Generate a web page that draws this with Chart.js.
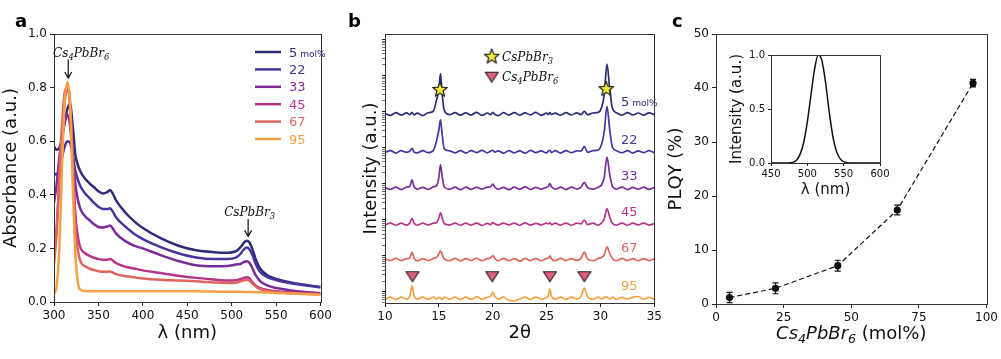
<!DOCTYPE html>
<html>
<head>
<meta charset="utf-8">
<script src="https://cdn.jsdelivr.net/npm/chart.js@4.4.1/dist/chart.umd.min.js"></script>
<style>
  body { margin: 0; background: #fff; width: 1001px; height: 359px; overflow: hidden; position: relative; }
  canvas { position: absolute; top: 0; }
</style>
</head>
<body>
<canvas id="absChart" width="335" height="359" style="left:0px"></canvas>
<canvas id="xrdChart" width="335" height="359" style="left:330px"></canvas>
<canvas id="plqyChart" width="336" height="359" style="left:665px"></canvas>
<canvas id="plChart" width="170" height="160" style="left:722px;top:45px"></canvas>
<script>
// ---- panel a: absorbance ----
const wavelength = [300, 303, 306, 309, 312, 315, 318, 321, 324, 327,
  330, 335, 340, 345, 350, 355, 360, 363, 366, 370,
  380, 390, 400, 420, 440, 460, 480, 495, 505, 510,
  514, 517, 520, 523, 527, 532, 540, 550, 565, 580, 600];
const absLabels = ['5', '22', '33', '45', '67', '95'];
const abs5 = [.58, .568, .575, .61, .67, .72, .74, .66, .55, .51,
  .485, .46, .443, .428, .413, .405, .41, .418, .405, .378,
  .335, .302, .276, .238, .21, .193, .186, .184, .19, .205,
  .222, .229, .222, .2, .16, .125, .1, .086, .074, .065, .056];
const abs22 = [.48, .475, .50, .54, .58, .60, .595, .55, .49, .455,
  .43, .405, .388, .37, .355, .347, .347, .35, .338, .315,
  .282, .255, .235, .205, .182, .166, .16, .16, .166, .18,
  .197, .203, .196, .178, .142, .112, .093, .082, .071, .063, .055];
const abs33 = [.37, .44, .54, .62, .67, .70, .66, .55, .44, .38,
  .345, .32, .305, .29, .28, .278, .282, .285, .275, .255,
  .228, .21, .2, .175, .153, .137, .133, .134, .14, .142,
  .15, .152, .146, .128, .1, .078, .062, .052, .044, .038, .033];
const abs45 = [.17, .28, .45, .62, .75, .80, .74, .55, .33, .24,
  .2, .182, .172, .165, .16, .158, .158, .16, .155, .145,
  .132, .125, .118, .108, .098, .09, .084, .08, .081, .086,
  .09, .092, .088, .075, .062, .052, .045, .04, .036, .033, .03];
const abs67 = [.14, .26, .47, .66, .78, .80, .75, .52, .28, .19,
  .15, .133, .125, .119, .115, .113, .113, .114, .11, .104,
  .097, .092, .088, .083, .08, .077, .073, .071, .072, .077,
  .081, .083, .079, .07, .058, .048, .041, .036, .033, .031, .029];
const abs95 = [.03, .06, .2, .5, .74, .82, .74, .45, .18, .07,
  .045, .041, .04, .04, .04, .04, .04, .04, .04, .04,
  .04, .04, .04, .04, .04, .04, .039, .038, .038, .038,
  .037, .037, .037, .037, .036, .036, .035, .034, .032, .03, .027];
const absSeries = [abs5, abs22, abs33, abs45, abs67, abs95];
const seriesColors = ['#2f2c78', '#4a32a0', '#7a2d96', '#b4358a', '#e0655f', '#f6a044'];

// ---- panel b: XRD (relative to baseline, stacked by decade) ----
const twoTheta = [10, 10.5, 11, 11.5, 12, 12.3, 12.5, 12.7, 13, 13.5,
  14, 14.5, 14.8, 15, 15.15, 15.3, 15.5, 16, 16.5, 17,
  17.5, 18, 18.5, 19, 19.5, 19.8, 20, 20.2, 20.5, 21,
  21.5, 22, 22.5, 23, 23.5, 24, 24.5, 25, 25.15, 25.3,
  25.45, 25.8, 26.3, 26.8, 27.3, 27.8, 28.2, 28.5, 28.8, 29.3,
  29.8, 30.1, 30.35, 30.6, 30.85, 31.1, 31.5, 32, 32.5, 33,
  33.5, 34, 34.5, 35];
const xrd5 = [1.04, 0.91, 1.09, 0.93, 1.07, 0.95, 1.1, 0.94, 1.05, 0.9,
  1.08, 1.2, 2.6, 4.6, 13, 3.8, 1.25, 0.95, 1.08, 0.92,
  1.07, 0.93, 1.1, 0.91, 1.06, 0.95, 1.11, 0.96, 0.9, 1.08,
  0.93, 1.09, 0.92, 1.07, 0.94, 1.1, 0.91, 1.06, 0.95, 1.08,
  0.96, 1.05, 0.92, 1.09, 0.94, 1.07, 0.96, 1.18, 0.95, 1.06,
  1.1, 1.5, 3.4, 24, 5.2, 1.45, 1.07, 0.93, 1.08, 0.94,
  1.06, 0.92, 1.07, 0.95];
const xrd22 = [0.94, 1.08, 0.92, 1.07, 0.96, 1.04, 1.25, 0.98, 0.93, 1.08,
  0.94, 1.1, 2.1, 4.0, 7.6, 3.1, 1.2, 1.06, 0.93, 1.08,
  0.92, 1.07, 0.95, 1.09, 0.93, 1.04, 1.1, 0.97, 1.06, 0.91,
  1.08, 0.93, 1.06, 0.91, 1.09, 0.94, 1.05, 0.93, 1.04, 1.1,
  0.95, 1.07, 0.92, 1.08, 0.94, 1.06, 1.04, 1.4, 0.96, 1.07,
  1.12, 1.6, 3.6, 18, 4.3, 1.35, 1.06, 0.94, 1.07, 0.92,
  1.05, 0.94, 1.08, 0.93];
const xrd33 = [1.05, 0.93, 1.08, 0.92, 1.07, 1.12, 1.7, 1.1, 0.94, 1.06,
  0.93, 1.09, 1.2, 2.0, 4.5, 2.2, 1.08, 0.94, 1.07, 0.91,
  1.08, 0.93, 1.06, 0.95, 1.07, 1.1, 1.3, 1.07, 0.93, 1.06,
  0.91, 1.07, 0.94, 1.09, 0.93, 1.05, 0.95, 1.07, 1.12, 1.35,
  1.1, 0.94, 1.07, 0.92, 1.08, 0.95, 1.07, 1.45, 1.04, 0.94,
  1.07, 1.25, 2.0, 7.3, 2.5, 1.15, 0.95, 1.07, 0.92, 1.06,
  0.94, 1.07, 0.93, 1.05];
const xrd45 = [0.95, 1.07, 0.93, 1.06, 0.94, 1.08, 1.45, 1.06, 0.93, 1.07,
  0.95, 1.06, 1.1, 1.5, 2.1, 1.5, 1.04, 0.94, 1.07, 0.93,
  1.06, 0.94, 1.07, 0.92, 1.05, 0.96, 1.1, 1.02, 0.94, 1.07,
  0.95, 1.06, 0.93, 1.08, 0.94, 1.05, 0.95, 1.06, 1.02, 1.1,
  0.96, 1.06, 0.94, 1.07, 0.93, 1.06, 1.02, 1.3, 0.97, 1.06,
  0.94, 1.08, 1.4, 2.7, 1.6, 1.06, 0.94, 1.07, 0.93, 1.06,
  0.95, 1.07, 0.94, 1.04];
const xrd67 = [1.06, 0.93, 1.09, 0.94, 1.06, 1.12, 1.6, 1.08, 0.92, 1.07,
  0.94, 1.08, 1.15, 1.45, 1.75, 1.4, 1.05, 0.93, 1.08, 0.92,
  1.07, 0.94, 1.09, 0.93, 1.06, 1.1, 1.3, 1.07, 0.92, 1.08,
  0.93, 1.07, 0.91, 1.08, 0.94, 1.06, 0.93, 1.07, 1.08, 1.27,
  1.05, 0.93, 1.08, 0.94, 1.06, 0.95, 1.1, 1.6, 1.04, 0.93,
  1.08, 1.15, 1.35, 2.25, 1.5, 1.07, 0.93, 1.08, 0.94, 1.06,
  0.93, 1.07, 0.94, 1.05];
const xrd95 = [0.94, 1.07, 0.92, 1.08, 0.95, 1.14, 2.25, 1.18, 0.95, 1.07,
  0.93, 1.08, 0.95, 1.06, 1.02, 0.93, 1.08, 0.94, 1.07, 0.92,
  1.08, 0.93, 1.09, 0.94, 1.07, 1.14, 1.45, 1.12, 0.95, 1.07,
  0.88, 0.84, 0.95, 1.07, 0.93, 1.08, 0.94, 1.06, 1.18, 1.8,
  1.12, 0.95, 1.07, 0.93, 1.08, 0.95, 1.12, 1.9, 1.1, 0.94,
  1.07, 0.95, 1.06, 1.08, 0.96, 1.07, 0.94, 1.06, 0.95, 1.07,
  1.12, 0.94, 1.06, 0.95];
const xrdSeries = [xrd5, xrd22, xrd33, xrd45, xrd67, xrd95];
const xrdOffset = [86000, 7700, 750, 76, 7.9, 0.67];
const starX = [15.1, 30.53];
const starY = [4.0e5, 4.2e5];
const triX = [12.55, 19.95, 25.3, 28.5];
const triY = [2.73, 2.73, 2.73, 2.73];

// ---- panel c: PLQY + inset PL ----
const composition = [5, 22, 45, 67, 95];
const plqy = [1.2, 2.9, 7.1, 17.4, 40.9];
const plqyErr = [0.95, 1.0, 1.0, 0.9, 0.7];
const plWl = [450, 455, 460, 465, 470, 475, 480, 485, 490, 495, 500, 505, 510, 515, 520,
  525, 530, 535, 540, 545, 550, 555, 560, 565, 570, 575, 580, 585, 590, 595, 600];
const plInt = [0, 0, 0, 0, 0, 0.001, 0.006, 0.025, 0.08, 0.19, 0.38, 0.63, 0.87, 1.0, 0.95,
  0.75, 0.48, 0.25, 0.11, 0.04, 0.012, 0.003, 0, 0, 0, 0, 0, 0, 0, 0, 0];

Chart.defaults.font.family = '"DejaVu Sans", sans-serif';
Chart.defaults.font.size = 12;
Chart.defaults.color = '#111';

const tickGrid = { display: true, drawOnChartArea: false, drawTicks: true, tickLength: 4, color: '#222', lineWidth: 1 };

// draws text pieces with sub/small parts side by side
function drawRich(ctx, x, y, parts, size, family, style, color, align) {
  ctx.save();
  ctx.fillStyle = color;
  ctx.textBaseline = 'alphabetic';
  ctx.textAlign = 'left';
  let total = 0;
  const info = parts.map(p => {
    const kind = p[1];
    const s = kind === 'sub' ? size * 0.7 : (kind === 'small' ? size * 0.7 : size);
    const f = (p[2] !== undefined ? p[2] : style) + ' ' + s + 'px ' + family;
    ctx.font = f;
    const w = ctx.measureText(p[0]).width;
    total += w;
    return { f, w, dy: kind === 'sub' ? size * 0.22 : 0 };
  });
  let cx = align === 'center' ? x - total / 2 : (align === 'right' ? x - total : x);
  parts.forEach((p, i) => {
    ctx.font = info[i].f;
    ctx.fillText(p[0], cx, y + info[i].dy);
    cx += info[i].w;
  });
  ctx.restore();
}

function drawArrow(ctx, x, y1, y2) {
  ctx.save();
  ctx.strokeStyle = '#111';
  ctx.lineWidth = 1.2;
  ctx.beginPath();
  ctx.moveTo(x, y1); ctx.lineTo(x, y2);
  ctx.moveTo(x - 3.5, y2 - 6); ctx.lineTo(x, y2); ctx.lineTo(x + 3.5, y2 - 6);
  ctx.stroke();
  ctx.restore();
}

function panelLetter(ctx, ch, x, y) {
  ctx.save();
  ctx.font = 'bold 18px "DejaVu Sans"';
  ctx.fillStyle = '#000';
  ctx.fillText(ch, x, y);
  ctx.restore();
}

const framePlugin = {
  id: 'frame',
  afterDraw(chart) {
    const { ctx, chartArea: a } = chart;
    ctx.save();
    ctx.strokeStyle = '#333';
    ctx.lineWidth = 1;
    ctx.strokeRect(Math.round(a.left) + 0.5, Math.round(a.top) + 0.5, Math.round(a.right - a.left), Math.round(a.bottom - a.top));
    ctx.restore();
  }
};

function makeMarker(kind) {
  const c = document.createElement('canvas');
  c.width = 18; c.height = 18;
  const g = c.getContext('2d');
  g.beginPath();
  if (kind === 'star') {
    for (let k = 0; k < 10; k++) {
      const r = k % 2 ? 3.3 : 7.8;
      const ang = -Math.PI / 2 + k * Math.PI / 5;
      g.lineTo(9 + r * Math.cos(ang), 9 + r * Math.sin(ang));
    }
    g.fillStyle = '#f6ec3c';
  } else {
    g.moveTo(2.5, 4.5); g.lineTo(15.5, 4.5); g.lineTo(9, 14.5);
    g.fillStyle = '#e0607a';
  }
  g.closePath();
  g.fill();
  g.lineJoin = 'round';
  g.lineWidth = 1.2;
  g.strokeStyle = '#222';
  g.stroke();
  return c;
}
const starImg = makeMarker('star');
const triImg = makeMarker('tri');

// ---------- panel a ----------
const absExtras = {
  id: 'absExtras',
  afterDraw(chart) {
    const { ctx, chartArea: a, scales: { x, y } } = chart;
    // legend
    absLabels.forEach((lab, i) => {
      const ry = a.top + 18 + i * 17.4;
      ctx.save();
      ctx.strokeStyle = seriesColors[i];
      ctx.lineWidth = 2.5;
      ctx.beginPath();
      ctx.moveTo(a.left + 201, ry); ctx.lineTo(a.left + 227, ry);
      ctx.stroke();
      ctx.restore();
      const parts = i === 0 ? [[lab], [' mol%', 'small']] : [[lab]];
      drawRich(ctx, a.left + 235, ry + 4.6, parts, 13, '"DejaVu Sans"', '', seriesColors[i], 'left');
    });
    // annotations
    const ax1 = x.getPixelForValue(316);
    drawArrow(ctx, ax1, y.getPixelForValue(0.905), y.getPixelForValue(0.836));
    drawRich(ctx, ax1 + 13, y.getPixelForValue(0.905) - 2,
      [['Cs'], ['4', 'sub'], ['PbBr'], ['6', 'sub']], 12, '"DejaVu Serif"', 'italic', '#111', 'center');
    const ax2 = x.getPixelForValue(518.5);
    drawArrow(ctx, ax2, y.getPixelForValue(0.31), y.getPixelForValue(0.245));
    drawRich(ctx, ax2 + 1.5, y.getPixelForValue(0.31) - 3,
      [['CsPbBr'], ['3', 'sub']], 12, '"DejaVu Serif"', 'italic', '#111', 'center');
    panelLetter(ctx, 'a', 15, 26.5);
  }
};

new Chart(document.getElementById('absChart'), {
  type: 'line',
  data: {
    datasets: absSeries.map((vals, i) => ({
      label: absLabels[i],
      data: wavelength.map((w, j) => ({ x: w, y: vals[j] })),
      borderColor: seriesColors[i],
      borderWidth: 2.5,
      pointRadius: 0,
      cubicInterpolationMode: 'monotone',
      fill: false,
      order: absSeries.length - i
    }))
  },
  options: {
    responsive: false, animation: false, devicePixelRatio: 1,
    layout: { padding: { top: 34, right: 11, left: 0, bottom: 0 } },
    plugins: { legend: { display: false }, tooltip: { enabled: false } },
    scales: {
      x: {
        type: 'linear', min: 300, max: 600,
        ticks: { stepSize: 50, padding: 3, maxRotation: 0 },
        grid: tickGrid, border: { display: false },
        title: { display: true, text: 'λ (nm)', font: { size: 18 }, padding: { top: 0, bottom: 15 } },
        afterFit: s => { s.height = 57; }
      },
      y: {
        min: 0, max: 1,
        ticks: { stepSize: 0.2, padding: 3, callback: v => v.toFixed(1) },
        grid: tickGrid, border: { display: false },
        title: { display: true, text: 'Absorbance (a.u.)', font: { size: 18 }, padding: { top: 1, bottom: 0 } },
        afterFit: s => { s.width = 54; }
      }
    }
  },
  plugins: [framePlugin, absExtras]
});

// ---------- panel b ----------
const xrdExtras = {
  id: 'xrdExtras',
  afterDraw(chart) {
    const { ctx, chartArea: a, scales: { x, y } } = chart;
    absLabels.forEach((lab, i) => {
      const px = x.getPixelForValue(31.9);
      const py = y.getPixelForValue(xrdOffset[i] * 2.2) + 4.6;
      const parts = i === 0 ? [[lab], [' mol%', 'small']] : [[lab]];
      drawRich(ctx, px, py, parts, 13, '"DejaVu Sans"', '', seriesColors[i], 'left');
    });
    // legend
    ctx.drawImage(starImg, a.left + 106.7 - 9, a.top + 22.7 - 9);
    ctx.drawImage(triImg, a.left + 106.7 - 9, a.top + 42.7 - 9);
    drawRich(ctx, a.left + 117, a.top + 27, [['CsPbBr'], ['3', 'sub']], 12, '"DejaVu Serif"', 'italic', '#111', 'left');
    drawRich(ctx, a.left + 117, a.top + 47, [['Cs'], ['4', 'sub'], ['PbBr'], ['6', 'sub']], 12, '"DejaVu Serif"', 'italic', '#111', 'left');
    panelLetter(ctx, 'b', 18, 26.5);
  }
};

new Chart(document.getElementById('xrdChart'), {
  type: 'line',
  data: {
    datasets: xrdSeries.map((vals, i) => ({
      label: absLabels[i],
      data: twoTheta.map((t, j) => ({ x: t, y: vals[j] * xrdOffset[i] })),
      borderColor: seriesColors[i],
      borderWidth: 1.7,
      pointRadius: 0,
      cubicInterpolationMode: 'monotone',
      fill: false
    })).concat([
      {
        label: 'CsPbBr3',
        data: starX.map((t, j) => ({ x: t, y: starY[j] })),
        showLine: false, pointStyle: starImg, pointRadius: 8, order: -1
      },
      {
        label: 'Cs4PbBr6',
        data: triX.map((t, j) => ({ x: t, y: triY[j] })),
        showLine: false, pointStyle: triImg, pointRadius: 8, order: -1
      }
    ])
  },
  options: {
    responsive: false, animation: false, devicePixelRatio: 1,
    layout: { padding: { top: 34, right: 10, left: 0, bottom: 0 } },
    plugins: { legend: { display: false }, tooltip: { enabled: false } },
    scales: {
      x: {
        type: 'linear', min: 10, max: 35,
        ticks: { stepSize: 5, padding: 3, maxRotation: 0 },
        grid: tickGrid, border: { display: false },
        title: { display: true, text: '2θ', font: { size: 18 }, padding: { top: 0, bottom: 15 } },
        afterFit: s => { s.height = 56; }
      },
      y: {
        type: 'logarithmic', min: 0.495, max: 1.41e7,
        ticks: { display: false },
        grid: Object.assign({}, tickGrid, { tickLength: 3, lineWidth: c => (c.tick && c.tick.major ? 1 : 0.6) }),
        border: { display: false },
        title: { display: true, text: 'Intensity (a.u.)', font: { size: 18 }, padding: { top: 31, bottom: 0 } },
        afterBuildTicks: s => {
          const t = [];
          for (let e = -1; e <= 7; e++) {
            for (let k = 1; k <= 9; k++) {
              const v = k * Math.pow(10, e);
              if (v >= s.min && v <= s.max) t.push({ value: v, major: k === 1 });
            }
          }
          s.ticks = t;
        },
        afterFit: s => { s.width = 55; }
      }
    }
  },
  plugins: [framePlugin, xrdExtras]
});

// ---------- panel c ----------
const plqyExtras = {
  id: 'plqyExtras',
  afterDatasetsDraw(chart) {
    const { ctx, scales: { x, y } } = chart;
    ctx.save();
    ctx.strokeStyle = '#111';
    ctx.lineWidth = 1.2;
    composition.forEach((c, i) => {
      const px = x.getPixelForValue(c);
      const y1 = y.getPixelForValue(plqy[i] - plqyErr[i]);
      const y2 = y.getPixelForValue(plqy[i] + plqyErr[i]);
      ctx.beginPath();
      ctx.moveTo(px, y1); ctx.lineTo(px, y2);
      ctx.moveTo(px - 3, y1); ctx.lineTo(px + 3, y1);
      ctx.moveTo(px - 3, y2); ctx.lineTo(px + 3, y2);
      ctx.stroke();
    });
    ctx.restore();
  },
  afterDraw(chart) {
    const { ctx, chartArea: a } = chart;
    drawRich(ctx, (a.left + a.right) / 2, 339,
      [['Cs', null, 'italic'], ['4', 'sub', 'italic'], ['PbBr', null, 'italic'], ['6', 'sub', 'italic'], [' (mol%)']],
      18, '"DejaVu Sans"', '', '#111', 'center');
    panelLetter(ctx, 'c', 7, 27);
  }
};

new Chart(document.getElementById('plqyChart'), {
  type: 'line',
  data: {
    datasets: [{
      label: 'PLQY',
      data: composition.map((c, i) => ({ x: c, y: plqy[i] })),
      borderColor: '#111', borderWidth: 1.2, borderDash: [5, 3],
      pointRadius: 3, pointBackgroundColor: '#111', pointBorderColor: '#111',
      tension: 0, fill: false
    }]
  },
  options: {
    responsive: false, animation: false, devicePixelRatio: 1,
    layout: { padding: { top: 34, right: 14, left: 0, bottom: 0 } },
    plugins: { legend: { display: false }, tooltip: { enabled: false } },
    scales: {
      x: {
        type: 'linear', min: 0, max: 100,
        ticks: { stepSize: 25, padding: 3, maxRotation: 0 },
        grid: tickGrid, border: { display: false },
        afterFit: s => { s.height = 55; }
      },
      y: {
        min: 0, max: 50,
        ticks: { stepSize: 10, padding: 3 },
        grid: tickGrid, border: { display: false },
        title: { display: true, text: 'PLQY (%)', font: { size: 18 }, padding: { top: 1, bottom: 0 } },
        afterFit: s => { s.width = 51; }
      }
    }
  },
  plugins: [framePlugin, plqyExtras]
});

// inset PL spectrum
new Chart(document.getElementById('plChart'), {
  type: 'line',
  data: {
    datasets: [{
      label: 'PL',
      data: plWl.map((w, i) => ({ x: w, y: plInt[i] })),
      borderColor: '#111', borderWidth: 1.5, pointRadius: 0,
      cubicInterpolationMode: 'monotone', fill: false
    }]
  },
  options: {
    responsive: false, animation: false, devicePixelRatio: 1,
    layout: { padding: { top: 10, right: 12, left: 0, bottom: 0 } },
    plugins: { legend: { display: false }, tooltip: { enabled: false } },
    scales: {
      x: {
        type: 'linear', min: 450, max: 600,
        ticks: { stepSize: 50, padding: 2, maxRotation: 0, font: { size: 10 } },
        grid: Object.assign({}, tickGrid, { tickLength: 3 }), border: { display: false },
        title: { display: true, text: 'λ (nm)', font: { size: 15 }, padding: { top: 0, bottom: 6 } },
        afterFit: s => { s.height = 42; }
      },
      y: {
        min: 0, max: 1,
        ticks: { stepSize: 0.5, padding: 3, font: { size: 10 }, callback: v => v.toFixed(1) },
        grid: Object.assign({}, tickGrid, { tickLength: 3 }), border: { display: false },
        title: { display: true, text: 'Intensity (a.u.)', font: { size: 15 }, padding: { top: 5.7, bottom: 0 } },
        afterFit: s => { s.width = 49; }
      }
    }
  },
  plugins: [framePlugin]
});
</script>
</body>
</html>
